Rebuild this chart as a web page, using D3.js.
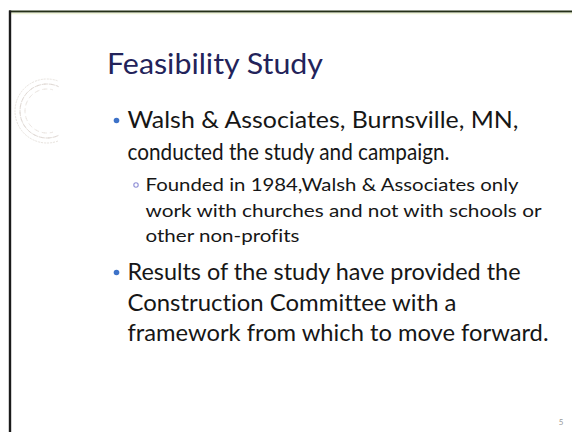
<!DOCTYPE html>
<html>
<head>
<meta charset="utf-8">
<script src="https://cdn.jsdelivr.net/npm/d3@7"></script>
<style>
  html, body { margin: 0; padding: 0; background: #ffffff; }
  svg { display: block; }
  text { font-variant-ligatures: none; font-feature-settings: "liga" 0, "clig" 0; }
</style>
</head>
<body>
<div id="slide"></div>
<script>
// ---- content ----
const titleText = "Feasibility Study";
const lineTexts = [
  "Walsh & Associates, Burnsville, MN,",
  "conducted the study and campaign.",
  "Founded in 1984,Walsh & Associates only",
  "work with churches and not with schools or",
  "other non-profits",
  "Results of the study have provided the",
  "Construction Committee with a",
  "framework from which to move forward."
];
const lineLevels = [1, 1, 2, 2, 2, 1, 1, 1];
const lineStartsBullet = [true, false, true, false, false, true, false, false];
const pageNumber = "5";

// ---- layout (styling, not data) ----
const W = 572, H = 432;
const baselines = [128, 159.5, 191, 216.5, 242, 280, 311, 341];
const lineWidths = [391, 322, 373, 396, 154, 393, 329, 421];

const svg = d3.select("#slide").append("svg")
  .attr("width", W).attr("height", H);

svg.append("rect").attr("width", W).attr("height", H).attr("fill", "#ffffff");

// slide frame
svg.append("line").attr("x1", 9).attr("x2", W).attr("y1", 11.5).attr("y2", 11.5)
  .attr("stroke", "#243018").attr("stroke-width", 2.2);
svg.append("line").attr("x1", 10).attr("x2", W).attr("y1", 13.5).attr("y2", 13.5)
  .attr("stroke", "#e9f0c8").attr("stroke-width", 1.5).attr("opacity", 0.7);
svg.append("line").attr("x1", 10).attr("x2", 10).attr("y1", 10.5).attr("y2", H)
  .attr("stroke", "#1b1b1b").attr("stroke-width", 2.4);

// decorative dashed arcs (faint)
const arcGen = d3.arc();
const deco = svg.append("g").attr("transform", "translate(47,111)").attr("opacity", 0.55);
[[27, "#c9bdb5", "4 3"], [32, "#d6cdc4", "2 4"], [22, "#ddd4cc", "3 5"]].forEach(([r, c, dash], i) => {
  deco.append("path")
    .attr("d", arcGen({innerRadius: r, outerRadius: r,
      startAngle: Math.PI * (155 + i * 5) / 180, endAngle: Math.PI * (385 - i * 5) / 180}))
    .attr("fill", "none").attr("stroke", c).attr("stroke-width", 1)
    .attr("stroke-dasharray", dash);
});

// title
svg.append("text")
  .attr("x", 107).attr("y", 74)
  .attr("font-family", "Lato, 'Open Sans', sans-serif")
  .attr("font-size", 29.5)
  .attr("fill", "#23235a")
  .attr("textLength", 216).attr("lengthAdjust", "spacingAndGlyphs")
  .text(titleText);

// body lines
const xText = d3.scaleOrdinal().domain([1, 2]).range([127.5, 145.5]);
const fontSize = d3.scaleOrdinal().domain([1, 2]).range([23, 18]);

const g = svg.append("g");
g.selectAll("text.line").data(lineTexts).join("text")
  .attr("class", "line")
  .attr("x", (d, i) => xText(lineLevels[i]))
  .attr("y", (d, i) => baselines[i])
  .attr("font-family", "Lato, 'Open Sans', sans-serif")
  .attr("font-size", (d, i) => fontSize(lineLevels[i]))
  .attr("fill", "#161616")
  .attr("textLength", (d, i) => lineWidths[i])
  .attr("lengthAdjust", "spacingAndGlyphs")
  .text(d => d);

// bullets
const bulletIdx = lineTexts.map((d, i) => i).filter(i => lineStartsBullet[i]);
g.selectAll("circle.b1").data(bulletIdx.filter(i => lineLevels[i] === 1)).join("circle")
  .attr("class", "b1")
  .attr("cx", 116.5).attr("cy", i => baselines[i] - 7.5).attr("r", 2.8)
  .attr("fill", "#3d72c8");
g.selectAll("circle.b2").data(bulletIdx.filter(i => lineLevels[i] === 2)).join("circle")
  .attr("class", "b2")
  .attr("cx", 136).attr("cy", i => baselines[i] - 6).attr("r", 2.2)
  .attr("fill", "none").attr("stroke", "#8f8fd6").attr("stroke-width", 1.1);

// page number
svg.append("text").attr("x", 561).attr("y", 425)
  .attr("font-family", "Lato, sans-serif").attr("font-size", 8)
  .attr("fill", "#999999").attr("text-anchor", "middle")
  .text(pageNumber);
</script>
</body>
</html>
